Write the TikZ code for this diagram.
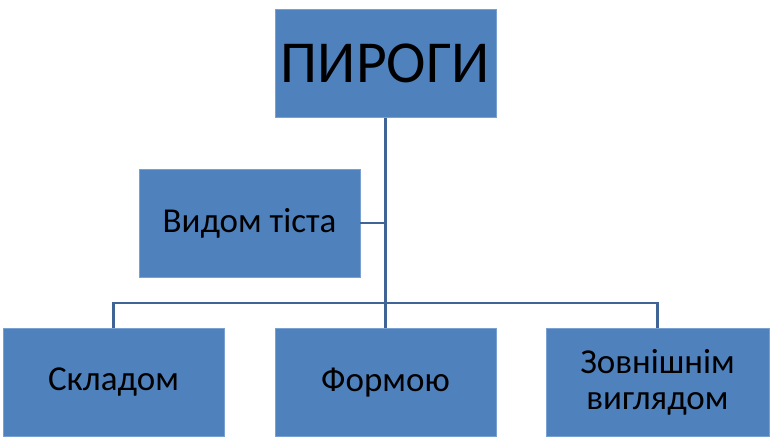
\documentclass[tikz,border=0pt]{standalone}
\usepackage{fontspec}
\setmainfont{Carlito}
\usepackage{tikz}
\usetikzlibrary{positioning}
\definecolor{boxblue}{RGB}{79,129,189}
\definecolor{edgeblue}{RGB}{120,160,210}
\definecolor{linkblue}{RGB}{65,100,150}

\begin{document}
\begin{tikzpicture}[x=1pt, y=-1pt,
    card/.style={rectangle, fill=boxblue, draw=edgeblue, line width=0.6pt,
      minimum width=221pt, minimum height=108pt, inner sep=0pt,
      align=center, font=\fontsize{35}{36}\selectfont},
    link/.style={draw=linkblue, line width=2.8pt}]
  \useasboundingbox (0,0) rectangle (771,447);
  % head and side box
  \node[card, font=\fontsize{59.5}{64}\selectfont] (pyrohy) at (385.5,63.5) {ПИРОГИ};
  \node[card] (vydom) at (249.5,223) {Видом тіста};
  % bottom row
  \node[card] (skladom) at (113.5,382.5) {Складом};
  \node[card] (formoiu) at (385.5,382.5) {Формою};
  \node[card, minimum width=223pt] (vyhliad) at (657.5,382.5) {Зовнішнім\\виглядом};
  \coordinate (bus) at (385.5,303);

  \draw[link] (pyrohy.south) -- (formoiu.north);
  \draw[link] (vydom.east) -- (vydom.east -| pyrohy.south);
  \draw[link] (skladom.north) |- (bus) -| (vyhliad.north);
\end{tikzpicture}
\end{document}
